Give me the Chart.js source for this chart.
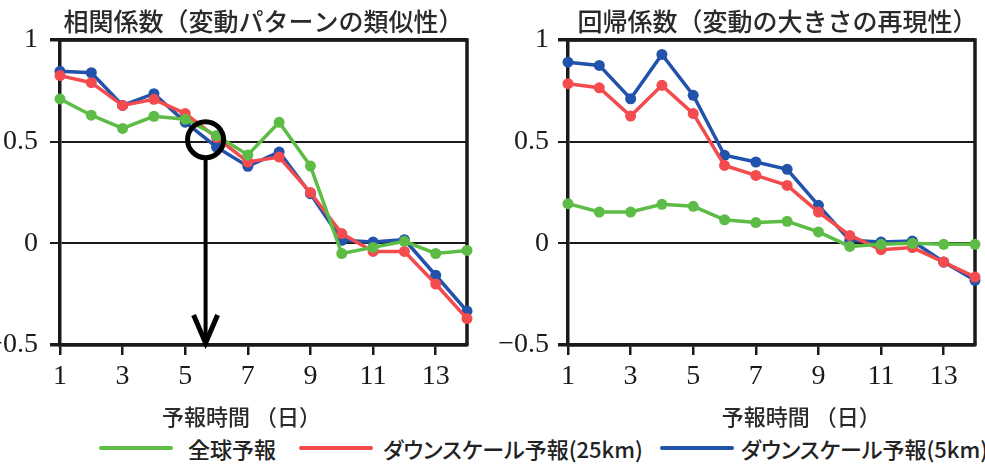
<!DOCTYPE html>
<html>
<head>
<meta charset="utf-8">
<script src="https://cdn.jsdelivr.net/npm/chart.js@4.4.1/dist/chart.umd.min.js"></script>
<style>
    html, body { margin: 0; padding: 0; background: #fff; }
    #wrap { position: relative; width: 985px; height: 468px; overflow: hidden; }
    .panel { position: absolute; top: 0; }
    #legend { position: absolute; left: 99px; top: 434px; height: 28px; display: flex; align-items: center;
        font-family: "Noto Sans CJK JP", sans-serif; font-weight: 500; font-size: 22px; color: #222;
        white-space: nowrap; font-feature-settings: "palt"; }
    .swatch { width: 74px; height: 4px; border-radius: 2px; }
</style>
</head>
<body>
<div id="wrap">
    <canvas id="corrChart" class="panel" width="490" height="430" style="left:0px"></canvas>
    <canvas id="regChart" class="panel" width="490" height="430" style="left:495px"></canvas>
    <div id="legend"></div>
</div>
<script>
// forecast days on the x axis
const days = [1, 2, 3, 4, 5, 6, 7, 8, 9, 10, 11, 12, 13, 14];
const xTickValues = [1, 3, 5, 7, 9, 11, 13];
const yTickValues = [-0.5, 0, 0.5, 1];
const yTickLabels = ['−0.5', '0', '0.5', '1'];

const seriesNames = ['全球予報', 'ダウンスケール予報(25km)', 'ダウンスケール予報(5km)'];
const seriesColours = ['#5cbc45', '#f34b4e', '#2152ac'];

// correlation coefficient (similarity of variation pattern)
const corrGlobal = [0.71, 0.63, 0.565, 0.625, 0.61, 0.53, 0.435, 0.595, 0.38, -0.05, -0.02, 0.01, -0.05, -0.035];
const corrDs25 = [0.825, 0.79, 0.678, 0.708, 0.638, 0.52, 0.40, 0.424, 0.25, 0.048, -0.04, -0.04, -0.20, -0.37];
const corrDs5 = [0.846, 0.839, 0.678, 0.736, 0.596, 0.473, 0.379, 0.449, 0.244, 0.015, 0.006, 0.018, -0.157, -0.333];

// regression coefficient (reproduction of variation magnitude)
const regGlobal = [0.195, 0.154, 0.154, 0.192, 0.182, 0.116, 0.102, 0.108, 0.056, -0.015, -0.005, 0.0, -0.005, -0.005];
const regDs25 = [0.785, 0.765, 0.626, 0.777, 0.638, 0.383, 0.334, 0.285, 0.154, 0.039, -0.031, -0.021, -0.092, -0.166];
const regDs5 = [0.891, 0.875, 0.711, 0.929, 0.728, 0.433, 0.40, 0.364, 0.187, 0.015, 0.006, 0.011, -0.092, -0.182];

const xAxisTitle = '予報時間 （日）';
const INK = '#1a1a1a';
const TICK_FONT = { family: '"Liberation Serif", serif', size: 28 };

// box round the plot area (right edge is not drawn by any scale)
const framePlugin = {
    id: 'frame',
    beforeDatasetsDraw(chart) {
        const { ctx, chartArea: a } = chart;
        ctx.save();
        ctx.strokeStyle = INK;
        ctx.lineWidth = 3.5;
        ctx.beginPath();
        ctx.moveTo(a.left, a.top);
        ctx.lineTo(a.right, a.top);
        ctx.lineTo(a.right, a.bottom);
        ctx.stroke();
        ctx.restore();
    },
};

// panel title and x axis title, drawn as text
const textPlugin = {
    id: 'panelText',
    afterDraw(chart, args, opts) {
        const { ctx, chartArea: a } = chart;
        ctx.save();
        ctx.fillStyle = '#2a2a2a';
        ctx.textAlign = 'center';
        ctx.textBaseline = 'middle';
        ctx.font = '500 25px "Noto Sans CJK JP"';
        ctx.fillText(opts.title, (a.left + a.right) / 2 + opts.titleDx, 21);
        ctx.font = '500 22px "Noto Sans CJK JP"';
        ctx.fillText(xAxisTitle, chart.scales.x.getPixelForValue(opts.xTitleAt), 417);
        ctx.restore();
    },
};

// circle + arrow marking where the correlation drops below 0.5
const markerPlugin = {
    id: 'marker',
    afterDatasetsDraw(chart, args, opts) {
        if (!opts.show) return;
        const { ctx } = chart;
        const x = chart.scales.x.getPixelForValue(opts.x);
        const y = chart.scales.y.getPixelForValue(opts.y);
        const tip = chart.scales.y.getPixelForValue(-0.5) - 2;
        ctx.save();
        ctx.strokeStyle = '#000';
        ctx.lineWidth = 5;
        ctx.beginPath();
        ctx.arc(x, y, 18, 0, Math.PI * 2);
        ctx.stroke();
        ctx.lineWidth = 4;
        ctx.beginPath();
        ctx.moveTo(x, y + 18);
        ctx.lineTo(x, tip);
        ctx.stroke();
        ctx.lineWidth = 5;
        ctx.lineJoin = 'miter';
        ctx.beginPath();
        ctx.moveTo(x - 12, tip - 28);
        ctx.lineTo(x, tip);
        ctx.lineTo(x + 12, tip - 28);
        ctx.stroke();
        ctx.restore();
    },
};

function makePanel(canvasId, title, seriesData, layout) {
    return new Chart(document.getElementById(canvasId), {
        type: 'line',
        data: {
            labels: days,
            datasets: seriesData.map((values, i) => ({
                label: seriesNames[i],
                data: days.map((d, j) => ({ x: d, y: values[j] })),
                borderColor: seriesColours[i],
                backgroundColor: seriesColours[i],
                borderWidth: 3.5,
                pointRadius: 5.5,
                pointHoverRadius: 5.5,
                pointBorderWidth: 0,
                tension: 0,
                clip: false,
            })),
        },
        plugins: [framePlugin, textPlugin, markerPlugin],
        options: {
            responsive: false,
            animation: false,
            events: [],
            layout: { padding: { top: 40, right: layout.right, left: 0, bottom: 0 } },
            scales: {
                x: {
                    type: 'linear',
                    min: 1,
                    max: 14,
                    afterBuildTicks: (scale) => {
                        scale.ticks = xTickValues.map((v) => ({ value: v }));
                    },
                    afterFit: (scale) => { scale.height = 85; },
                    ticks: {
                        color: INK,
                        padding: 5,
                        font: TICK_FONT,
                        callback: (v) => String(v),
                    },
                    grid: { drawOnChartArea: false, drawTicks: true, tickLength: 10, lineWidth: 2.5, color: INK },
                    border: { display: true, width: 3.5, color: INK },
                },
                y: {
                    min: -0.5,
                    max: 1,
                    afterBuildTicks: (scale) => {
                        scale.ticks = yTickValues.map((v) => ({ value: v }));
                    },
                    afterFit: (scale) => { scale.width = layout.yWidth; },
                    ticks: {
                        color: INK,
                        padding: layout.tickPad,
                        font: TICK_FONT,
                        callback: (v) => yTickLabels[yTickValues.indexOf(v)],
                    },
                    grid: {
                        color: INK,
                        tickLength: 10,
                        lineWidth: (c) => (c.tick && (c.tick.value === 1 || c.tick.value === -0.5) ? 3.5 : 2),
                    },
                    border: { display: true, width: 3.5, color: INK },
                },
            },
            plugins: {
                legend: { display: false },
                tooltip: { enabled: false },
                title: { display: false },
                panelText: { title: title, titleDx: layout.titleDx, xTitleAt: layout.xTitleAt },
                marker: layout.marker,
            },
        },
    });
}

makePanel('corrChart', '相関係数（変動パターンの類似性）', [corrGlobal, corrDs25, corrDs5], {
    right: 23, yWidth: 60, tickPad: 12, titleDx: 0, xTitleAt: 6.8,
    marker: { show: true, x: 5.65, y: 0.51 },
});
makePanel('regChart', '回帰係数（変動の大きさの再現性）', [regGlobal, regDs25, regDs5], {
    right: 10, yWidth: 73, tickPad: 9, titleDx: 6, xTitleAt: 8.45,
    marker: { show: false },
});

// shared legend under both panels
const legend = document.getElementById('legend');
const gaps = [[15, 23], [10, 17], [7, 0]];
seriesNames.forEach((name, i) => {
    const sw = document.createElement('div');
    sw.className = 'swatch';
    sw.style.background = seriesColours[i];
    sw.style.marginRight = gaps[i][0] + 'px';
    const txt = document.createElement('span');
    txt.textContent = name;
    txt.style.marginRight = gaps[i][1] + 'px';
    legend.appendChild(sw);
    legend.appendChild(txt);
});
</script>
</body>
</html>
